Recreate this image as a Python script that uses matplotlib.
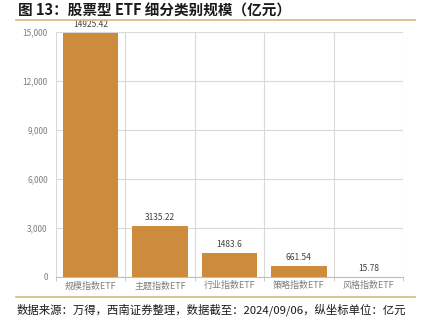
import matplotlib
matplotlib.use("Agg")
import matplotlib.pyplot as plt
from matplotlib.ticker import FuncFormatter, FixedLocator
from matplotlib.lines import Line2D

plt.rcParams['font.family'] = ['Noto Sans CJK SC', 'DejaVu Sans']

categories = ['规模指数ETF', '主题指数ETF', '行业指数ETF', '策略指数ETF', '风格指数ETF']
values = [14925.42, 3135.22, 1483.6, 661.54, 15.78]
value_labels = ['14925.42', '3135.22', '1483.6', '661.54', '15.78']
yticks = [0, 3000, 6000, 9000, 12000, 15000]

W, H = 421, 328
fig = plt.figure(figsize=(W/100, H/100), dpi=100)
ax = fig.add_axes([56/W, 1-277/H, (403-56)/W, (277-32)/H])

x = range(len(categories))
ax.bar(x, values, width=0.8, color='#CD8B3E', zorder=3)
for i, (v, lab) in enumerate(zip(values, value_labels)):
    ax.text(i, v + 250, lab, ha='center', va='bottom', fontsize=6, color='#404040')

ax.set_xlim(-0.5, len(categories) - 0.5)
ax.set_ylim(0, 15000)
ax.set_yticks(yticks)
ax.yaxis.set_major_formatter(FuncFormatter(lambda v, p: f'{int(v):,}'))
ax.set_xticks(list(x))
ax.set_xticklabels(categories, fontsize=6.5, color='#7F7F7F')
ax.tick_params(axis='y', labelsize=6, colors='#7F7F7F', length=0, pad=6)
ax.tick_params(axis='x', length=0, pad=3)
ax.xaxis.set_minor_locator(FixedLocator([i - 0.5 for i in range(len(categories) + 1)]))
ax.tick_params(axis='x', which='minor', length=3, color='#BFBFBF')
ax.grid(axis='y', color='#D9D9D9', lw=0.8, zorder=0)
ax.grid(axis='x', which='minor', color='#D9D9D9', lw=0.8, zorder=0)
for s in ['top', 'right', 'left']:
    ax.spines[s].set_visible(False)
ax.spines['bottom'].set_color('#BFBFBF')

fig.text(18/W, 1-11/H, '图 13：股票型 ETF 细分类别规模（亿元）', fontsize=10.5, fontweight='bold',
         color='#1a1a1a', va='center', ha='left')
fig.add_artist(Line2D([16/W, 415/W], [1-20/H, 1-20/H], color='#D9B77E', lw=1.2))
fig.add_artist(Line2D([16/W, 415/W], [1-297/H, 1-297/H], color='#D9B77E', lw=1.2))
fig.text(17/W, 1-310/H, '数据来源：万得，西南证券整理，数据截至：2024/09/06，纵坐标单位：亿元',
         fontsize=8.2, fontstyle='italic', color='#1a1a1a', va='center', ha='left')

fig.savefig('out.png', dpi=100)
